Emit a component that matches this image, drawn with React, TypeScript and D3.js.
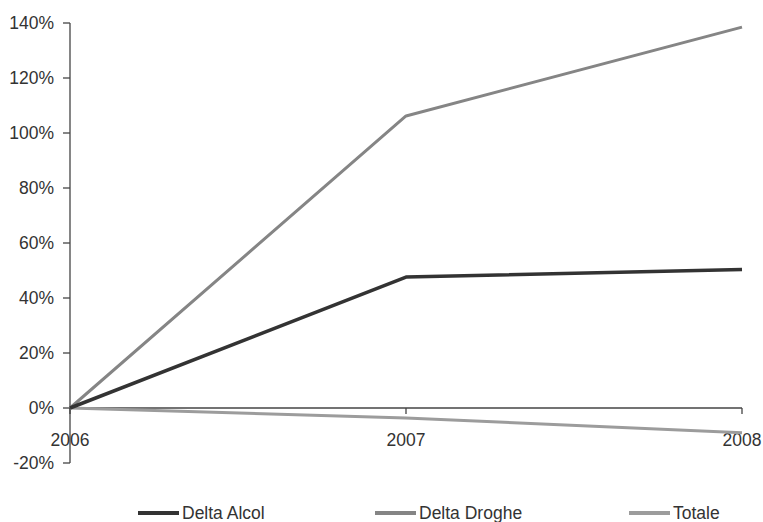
import React from "react";
import * as d3 from "d3";

const years = ["2006", "2007", "2008"];
const deltaAlcol = [0, 47.6, 50.4];
const deltaDroghe = [0, 106.2, 138.5];
const totale = [0, -3.6, -9.0];
const yTicks = [-20, 0, 20, 40, 60, 80, 100, 120, 140];

const series = [
  { name: "Delta Alcol", values: deltaAlcol, color: "#333333", width: 3.5 },
  { name: "Delta Droghe", values: deltaDroghe, color: "#858585", width: 3 },
  { name: "Totale", values: totale, color: "#9c9c9c", width: 3 },
];

const legendX = [138, 375, 629];

export default function App() {
  const W = 763, H = 522;
  const x = d3.scalePoint<string>().domain(years).range([70, 742]);
  const y = d3.scaleLinear().domain([-20, 140]).range([463, 23]);
  const line = d3
    .line<number>()
    .x((_, i) => x(years[i]) as number)
    .y((d) => y(d));
  const font = "'Liberation Sans', Arial, sans-serif";
  const axisColor = "#444";
  return (
    <svg width={W} height={H} style={{ position: "absolute", left: 0, top: 0 }}>
      <rect width={W} height={H} fill="#fff" />
      {/* y axis */}
      <line x1={70} x2={70} y1={y(140)} y2={y(-20)} stroke={axisColor} strokeWidth={1.3} />
      {yTicks.map((t) => (
        <g key={t}>
          <line x1={63} x2={70} y1={y(t)} y2={y(t)} stroke={axisColor} strokeWidth={1.3} />
          <text
            x={54}
            y={y(t)}
            dy="0.35em"
            textAnchor="end"
            fontFamily={font}
            fontSize={17.5}
            fill="#333"
          >
            {t}%
          </text>
        </g>
      ))}
      {/* x axis at 0 */}
      <line x1={70} x2={742} y1={y(0)} y2={y(0)} stroke={axisColor} strokeWidth={1.3} />
      {years.map((yr) => (
        <g key={yr}>
          <line x1={x(yr)} x2={x(yr)} y1={y(0)} y2={y(0) + 6} stroke={axisColor} strokeWidth={1.3} />
          <text
            x={x(yr) as number}
            y={y(0) + 38}
            textAnchor="middle"
            fontFamily={font}
            fontSize={17.5}
            fill="#333"
          >
            {yr}
          </text>
        </g>
      ))}
      {/* lines */}
      {[...series].reverse().map((s) => (
        <path
          key={s.name}
          d={line(s.values) || ""}
          fill="none"
          stroke={s.color}
          strokeWidth={s.width}
          strokeLinejoin="round"
        />
      ))}
      {/* legend */}
      {series.map((s, i) => (
        <g key={s.name}>
          <line
            x1={legendX[i]}
            x2={legendX[i] + 41}
            y1={513}
            y2={513}
            stroke={s.color}
            strokeWidth={4}
          />
          <text x={legendX[i] + 44} y={519} fontFamily={font} fontSize={17.5} fill="#333">
            {s.name}
          </text>
        </g>
      ))}
    </svg>
  );
}
